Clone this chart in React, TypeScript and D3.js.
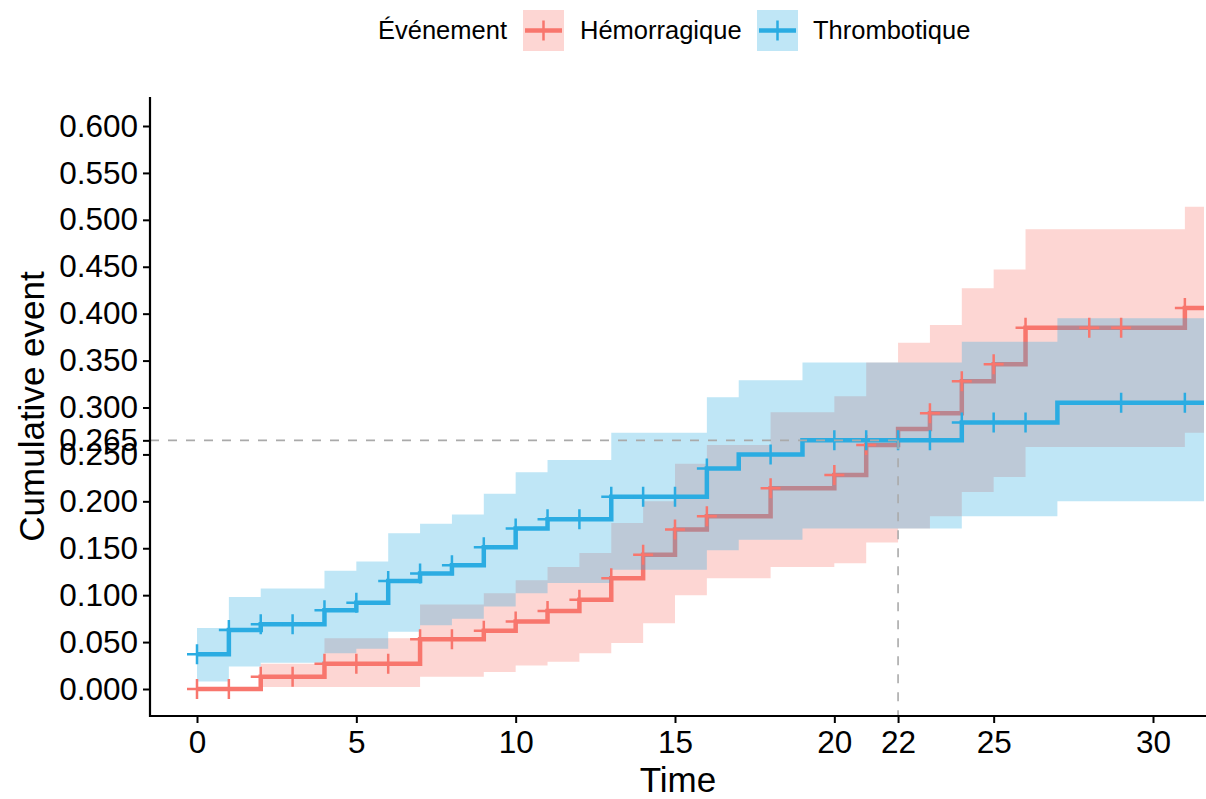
import React, { useEffect, useRef } from 'react';
import * as d3 from 'd3';

// Hémorragique: step times, cumulative incidence and confidence band
const hemTimes = [0, 2, 4, 7, 9, 10, 11, 12, 13, 14, 15, 16, 18, 20, 21, 22, 23, 24, 25, 26, 31];
const hemEst = [0, 0.013, 0.027, 0.053, 0.062, 0.072, 0.083, 0.095, 0.118, 0.143, 0.17, 0.184, 0.214, 0.228, 0.26, 0.277, 0.294, 0.328, 0.346, 0.385, 0.406];
const hemLower = [0, 0.002, 0.002, 0.013, 0.018, 0.025, 0.029, 0.038, 0.049, 0.07, 0.1, 0.118, 0.13, 0.134, 0.156, 0.171, 0.184, 0.21, 0.226, 0.258, 0.273];
const hemUpper = [0, 0.027, 0.054, 0.09, 0.102, 0.116, 0.13, 0.145, 0.177, 0.2, 0.24, 0.26, 0.295, 0.312, 0.348, 0.369, 0.388, 0.427, 0.447, 0.49, 0.514];
const hemCensor = [0, 1, 2, 3, 4, 5, 6, 7, 8, 9, 10, 11, 12, 13, 14, 15, 16, 18, 20, 21, 23, 24, 25, 26, 28, 29, 31];

// Thrombotique
const thrTimes = [0, 1, 2, 4, 5, 6, 7, 8, 9, 10, 11, 13, 16, 17, 19, 24, 27];
const thrEst = [0.037, 0.063, 0.069, 0.084, 0.092, 0.115, 0.123, 0.132, 0.151, 0.171, 0.181, 0.205, 0.235, 0.25, 0.265, 0.284, 0.305];
const thrLower = [0.008, 0.024, 0.028, 0.038, 0.043, 0.061, 0.068, 0.075, 0.088, 0.102, 0.113, 0.127, 0.148, 0.159, 0.171, 0.184, 0.2];
const thrUpper = [0.065, 0.098, 0.107, 0.126, 0.136, 0.166, 0.176, 0.186, 0.208, 0.231, 0.244, 0.273, 0.311, 0.329, 0.348, 0.37, 0.395];
const thrCensor = [0, 1, 2, 3, 4, 5, 6, 7, 8, 9, 10, 11, 12, 13, 14, 15, 16, 18, 20, 21, 22, 23, 24, 25, 26, 29, 31];

const endTime = 31.6;
const medianTime = 22;
const medianValue = 0.265;

const yTicks = [0, 0.05, 0.1, 0.15, 0.2, 0.25, 0.265, 0.3, 0.35, 0.4, 0.45, 0.5, 0.55, 0.6];
const xTicks = [0, 5, 10, 15, 20, 22, 25, 30];

const groups = [
  { name: 'Hémorragique', color: '#F8766D', times: hemTimes, est: hemEst, lower: hemLower, upper: hemUpper, censor: hemCensor },
  { name: 'Thrombotique', color: '#2BACE2', times: thrTimes, est: thrEst, lower: thrLower, upper: thrUpper, censor: thrCensor },
];

const font = '"Liberation Sans", Arial, Helvetica, sans-serif';

export default function App() {
  const ref = useRef<SVGSVGElement>(null);

  useEffect(() => {
    const width = 1206;
    const height = 799;
    const panel = { left: 150, right: 1206, top: 97, bottom: 716 };

    const svg = d3.select(ref.current);
    svg.selectAll('*').remove();

    const x = d3.scaleLinear().domain([0, 30]).range([197, 1153]);
    const y = d3.scaleLinear().domain([0, 0.6]).range([689, 126]);

    svg.append('defs').append('clipPath').attr('id', 'panel')
      .append('rect')
      .attr('x', panel.left).attr('y', panel.top)
      .attr('width', panel.right - panel.left).attr('height', panel.bottom - panel.top);

    const plot = svg.append('g').attr('clip-path', 'url(#panel)');

    const cross = 'M-10,0H10M0,-10V10';

    groups.forEach(g => {
      const pts = g.times.map((t, i) => ({ t, est: g.est[i], lo: g.lower[i], hi: g.upper[i] }));
      pts.push({ ...pts[pts.length - 1], t: endTime });

      const area = d3.area<any>()
        .curve(d3.curveStepAfter)
        .x(d => x(d.t))
        .y0(d => y(d.lo))
        .y1(d => y(d.hi));

      const line = d3.line<any>()
        .curve(d3.curveStepAfter)
        .x(d => x(d.t))
        .y(d => y(d.est));

      plot.append('path')
        .datum(pts)
        .attr('fill', g.color)
        .attr('fill-opacity', 0.3)
        .attr('d', area);

      plot.append('path')
        .datum(pts)
        .attr('fill', 'none')
        .attr('stroke', g.color)
        .attr('stroke-width', 4.5)
        .attr('d', line);
    });

    groups.forEach(g => {
      const valueAt = (t: number) => g.est[d3.bisectRight(g.times, t) - 1];
      plot.selectAll(null)
        .data(g.censor)
        .join('path')
        .attr('transform', t => `translate(${x(t)},${y(valueAt(t))})`)
        .attr('d', cross)
        .attr('stroke', g.color)
        .attr('stroke-width', 2.5)
        .attr('fill', 'none');
    });

    // median reference lines
    plot.append('line')
      .attr('x1', panel.left).attr('x2', x(medianTime))
      .attr('y1', y(medianValue)).attr('y2', y(medianValue))
      .attr('stroke', '#aaaaaa').attr('stroke-width', 1.6).attr('stroke-dasharray', '9,9');
    plot.append('line')
      .attr('x1', x(medianTime)).attr('x2', x(medianTime))
      .attr('y1', y(medianValue)).attr('y2', panel.bottom)
      .attr('stroke', '#aaaaaa').attr('stroke-width', 1.6).attr('stroke-dasharray', '9,9');

    // axes
    const xAxis = svg.append('g')
      .attr('transform', `translate(0,${panel.bottom})`)
      .call(d3.axisBottom(x).tickValues(xTicks).tickFormat(d3.format('d')).tickSize(7).tickPadding(8).tickSizeOuter(0));
    xAxis.select('.domain').remove();
    xAxis.append('line')
      .attr('x1', panel.left).attr('x2', panel.right)
      .attr('stroke', 'black').attr('stroke-width', 2.2);

    const yAxis = svg.append('g')
      .attr('transform', `translate(${panel.left},0)`)
      .call(d3.axisLeft(y).tickValues(yTicks).tickFormat(d3.format('.3f')).tickSize(7).tickPadding(5).tickSizeOuter(0));
    yAxis.select('.domain').remove();
    yAxis.append('line')
      .attr('y1', panel.top).attr('y2', panel.bottom + 1)
      .attr('stroke', 'black').attr('stroke-width', 2.2);

    [xAxis, yAxis].forEach(a => {
      a.selectAll('.tick line').attr('stroke', 'black').attr('stroke-width', 2);
      a.selectAll('.tick text')
        .attr('fill', 'black')
        .style('font-family', font)
        .style('font-size', '31.5px');
    });

    svg.append('text')
      .attr('x', (panel.left + panel.right) / 2)
      .attr('y', 792)
      .attr('text-anchor', 'middle')
      .style('font-family', font)
      .style('font-size', '35px')
      .text('Time');

    svg.append('text')
      .attr('transform', `translate(44,${(panel.top + panel.bottom) / 2}) rotate(-90)`)
      .attr('text-anchor', 'middle')
      .style('font-family', font)
      .style('font-size', '35px')
      .text('Cumulative event');

    // legend
    const legend = svg.append('g');
    legend.append('text')
      .attr('x', 378).attr('y', 39)
      .style('font-family', font)
      .style('font-size', '25.5px')
      .text('Événement');

    const keyX = [523, 757];
    const labelX = [580, 813];
    groups.forEach((g, i) => {
      const k = legend.append('g').attr('transform', `translate(${keyX[i]},10)`);
      k.append('rect')
        .attr('width', 41).attr('height', 41)
        .attr('fill', g.color).attr('fill-opacity', 0.3);
      k.append('line')
        .attr('x1', 2).attr('x2', 39).attr('y1', 20.5).attr('y2', 20.5)
        .attr('stroke', g.color).attr('stroke-width', 4.5);
      k.append('path')
        .attr('transform', 'translate(20.5,20.5)')
        .attr('d', cross)
        .attr('stroke', g.color).attr('stroke-width', 2.5);
      legend.append('text')
        .attr('x', labelX[i]).attr('y', 39)
        .style('font-family', font)
        .style('font-size', '25.5px')
        .text(g.name);
    });

    svg.attr('width', width).attr('height', height);
  }, []);

  return (
    <svg ref={ref} width={1206} height={799}
      style={{ position: 'absolute', left: 0, top: 0, background: 'white' }} />
  );
}
